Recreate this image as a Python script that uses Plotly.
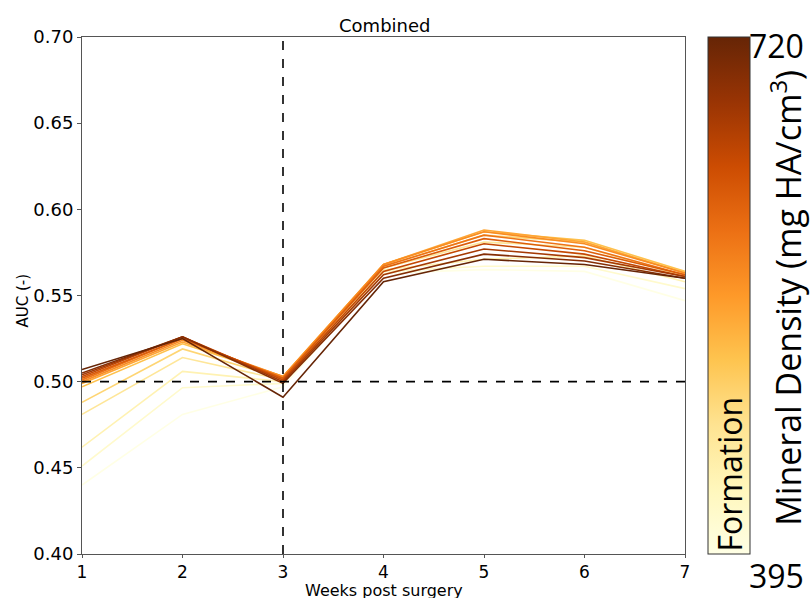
import plotly.graph_objects as go
from plotly.colors import sample_colorscale

# Weeks after surgery
weeks = [1, 2, 3, 4, 5, 6, 7]

# Mineral density thresholds (mg HA/cm^3) for the formation curves
densities = [395, 420, 445, 470, 495, 520, 545, 570, 595, 620, 645, 670, 695, 720]

# AUC per threshold, one list per density (weeks 1..7)
auc_395 = [0.440, 0.481, 0.497, 0.563, 0.565, 0.564, 0.547]
auc_420 = [0.451, 0.4965, 0.499, 0.564, 0.567, 0.567, 0.554]
auc_445 = [0.462, 0.506, 0.500, 0.565, 0.571, 0.573, 0.558]
auc_470 = [0.481, 0.514, 0.501, 0.566, 0.581, 0.578, 0.561]
auc_495 = [0.488, 0.519, 0.502, 0.567, 0.585, 0.581, 0.563]
auc_520 = [0.497, 0.522, 0.503, 0.568, 0.587, 0.582, 0.564]
auc_545 = [0.499, 0.523, 0.503, 0.568, 0.588, 0.581, 0.563]
auc_570 = [0.500, 0.524, 0.503, 0.568, 0.587, 0.580, 0.563]
auc_595 = [0.501, 0.525, 0.502, 0.567, 0.585, 0.578, 0.562]
auc_620 = [0.502, 0.525, 0.502, 0.566, 0.583, 0.576, 0.562]
auc_645 = [0.503, 0.526, 0.501, 0.564, 0.580, 0.574, 0.561]
auc_670 = [0.504, 0.526, 0.500, 0.562, 0.577, 0.572, 0.561]
auc_695 = [0.505, 0.526, 0.499, 0.560, 0.574, 0.570, 0.560]
auc_720 = [0.507, 0.525, 0.491, 0.558, 0.571, 0.568, 0.560]

auc_series = [auc_395, auc_420, auc_445, auc_470, auc_495, auc_520, auc_545,
              auc_570, auc_595, auc_620, auc_645, auc_670, auc_695, auc_720]

dmin, dmax = 395, 720
colors = sample_colorscale("YlOrBr", [(d - dmin) / (dmax - dmin) for d in densities])

fig = go.Figure()
for d, vals, c in zip(densities, auc_series, colors):
    fig.add_trace(go.Scatter(x=weeks, y=vals, mode="lines",
                             line=dict(color=c, width=1.6),
                             name=str(d), showlegend=False, hoverinfo="skip"))

# Invisible trace carrying the colorbar
fig.add_trace(go.Scatter(
    x=[None], y=[None], mode="markers", showlegend=False,
    marker=dict(color=[dmin, dmax], cmin=dmin, cmax=dmax, colorscale="YlOrBr",
                showscale=True,
                colorbar=dict(x=1.038, xanchor="left", xref="paper", xpad=0, ypad=0,
                              y=0, yanchor="bottom", len=1, lenmode="fraction",
                              thickness=42, outlinewidth=1, outlinecolor="#333",
                              showticklabels=False, ticks="")),
))

# Reference lines
fig.add_shape(type="line", x0=3, x1=3, y0=0.40, y1=0.70, xref="x", yref="y",
              line=dict(color="black", width=1.6, dash="dash"))
fig.add_shape(type="line", x0=1, x1=7, y0=0.5, y1=0.5, xref="x", yref="y",
              line=dict(color="black", width=1.6, dash="dash"))

fam = "Open Sans, Noto Sans, sans-serif"
dv = "DejaVu Sans, sans-serif"
fig.add_annotation(text="720", x=1.103, y=0.983, xref="paper", yref="paper",
                   xanchor="left", yanchor="middle", showarrow=False,
                   font=dict(family=fam, size=32, color="black"))
fig.add_annotation(text="395", x=1.103, y=-0.041, xref="paper", yref="paper",
                   xanchor="left", yanchor="middle", showarrow=False,
                   font=dict(family=fam, size=32, color="black"))
fig.add_annotation(text="Mineral Density (mg HA/cm<sup>3</sup>)", textangle=-90,
                   x=1.167, y=0.495, xref="paper", yref="paper",
                   xanchor="center", yanchor="middle", showarrow=False,
                   font=dict(family=fam, size=34, color="black"))
fig.add_annotation(text="Formation", textangle=-90,
                   x=1.073, y=0.0, xref="paper", yref="paper",
                   xanchor="center", yanchor="bottom", showarrow=False,
                   font=dict(family=fam, size=32, color="black"))

# Axis titles
fig.add_annotation(text="Weeks post surgery", x=0.5, y=-0.0485, xref="paper", yref="paper",
                   xanchor="center", yanchor="top", showarrow=False,
                   font=dict(family=dv, size=16, color="black"))
fig.add_annotation(text="AUC (-)", textangle=-90, x=-0.098, y=0.49, xref="paper", yref="paper",
                   xanchor="center", yanchor="middle", showarrow=False,
                   font=dict(family=dv, size=15, color="black"))

fig.update_layout(
    width=810, height=598,
    margin=dict(l=82, r=125, t=37, b=44, autoexpand=False),
    paper_bgcolor="white", plot_bgcolor="white",
    title=dict(text="Combined", x=0.475, xanchor="center", y=0.957, yanchor="middle",
               font=dict(family=dv, size=18, color="black")),
    xaxis=dict(range=[1, 7], tickvals=weeks, showgrid=False, zeroline=False,
               showline=True, linecolor="#555", linewidth=1, mirror=True,
               ticks="outside", ticklen=3, tickcolor="#555",
               tickfont=dict(family=dv, size=17, color="black"),
               automargin=False),
    yaxis=dict(range=[0.40, 0.70], tickvals=[0.40, 0.45, 0.50, 0.55, 0.60, 0.65, 0.70],
               tickformat=".2f", showgrid=False, zeroline=False,
               showline=True, linecolor="#555", linewidth=1, mirror=True,
               ticks="outside", ticklen=4, tickcolor="#555",
               tickfont=dict(family=dv, size=18, color="black"),
               automargin=False),
)

fig.write_html("out.html")
